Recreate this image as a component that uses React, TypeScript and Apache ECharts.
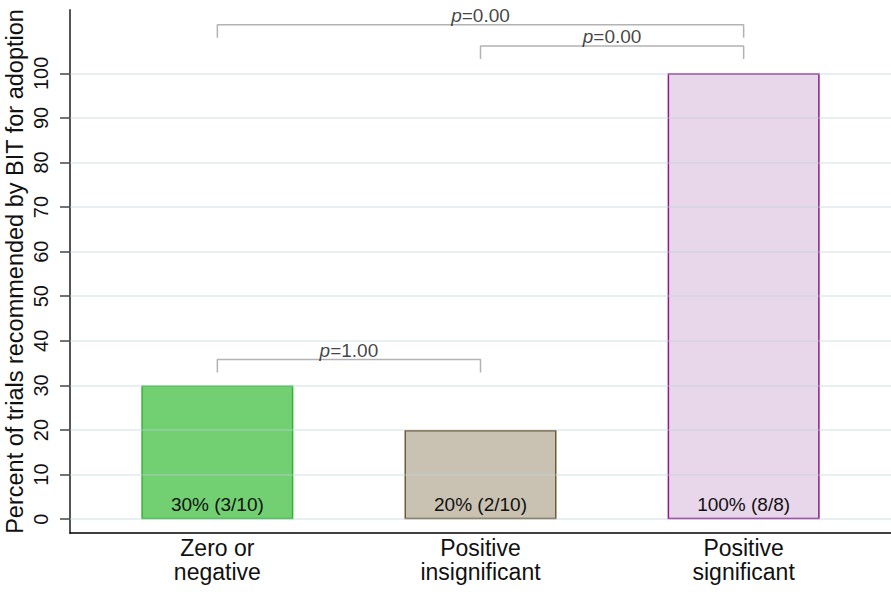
import React, { useEffect, useRef } from "react";
import * as echarts from "echarts";

const categories = ["Zero or\nnegative", "Positive\ninsignificant", "Positive\nsignificant"];
const percentValues = [30, 20, 100];
const barLabels = ["30% (3/10)", "20% (2/10)", "100% (8/8)"];
const yTicks = [0, 10, 20, 30, 40, 50, 60, 70, 80, 90, 100];

// significance brackets
const bracketFrom = [0, 1, 0];
const bracketTo = [2, 2, 1];
const bracketTop = [110.9, 106.1, 35.8];
const bracketPValues = ["0.00", "0.00", "1.00"];
const legDrop = 2.9;

const fillColors = ["#72d072", "#c9c2b2", "#e8d6ea"];
const borderColors = ["#2bb82b", "#6e5b37", "#8c1a8c"];

const FONT = "Arial, 'Liberation Sans', Helvetica, sans-serif";

export default function App() {
  const ref = useRef<HTMLDivElement>(null);
  useEffect(() => {
    if (!ref.current) return;
    const chart = echarts.init(ref.current, null, { renderer: "svg" });

    const bracketSeries = bracketFrom.map((f, i) => ({
      type: "line",
      z: 3,
      silent: true,
      symbol: "none",
      lineStyle: { color: "#b3b3b3", width: 1.5 },
      data: [
        [f, bracketTop[i] - legDrop],
        [f, bracketTop[i]],
        [bracketTo[i], bracketTop[i]],
        [bracketTo[i], bracketTop[i] - legDrop],
      ],
    }));

    const pLabelSeries = {
      type: "scatter",
      z: 4,
      silent: true,
      symbolSize: 0,
      data: bracketFrom.map((f, i) => [(f + bracketTo[i]) / 2, bracketTop[i]]),
      label: {
        show: true,
        position: "top",
        distance: 0,
        fontFamily: FONT,
        fontSize: 19,
        color: "#111",
        formatter: (p: any) => `{i|p}{n|=${bracketPValues[p.dataIndex]}}`,
        rich: {
          i: { fontStyle: "italic", fontSize: 19, fontFamily: FONT, color: "#111" },
          n: { fontSize: 19, fontFamily: FONT, color: "#111" },
        },
      },
    };

    chart.setOption({
      animation: false,
      backgroundColor: "#ffffff",
      grid: { left: 70, right: 0, top: 10, bottom: 59, containLabel: false, outerBoundsMode: "none" },
      xAxis: {
        type: "value",
        min: -0.56,
        max: 2.56,
        axisLine: { show: true, onZero: false, lineStyle: { color: "#000", width: 1.5 } },
        axisTick: { show: false },
        splitLine: { show: false },
        axisLabel: {
          customValues: [0, 1, 2],
          formatter: (v: number) => categories[Math.round(v)] ?? "",
          fontFamily: FONT,
          fontSize: 23,
          lineHeight: 24,
          color: "#111",
          margin: 3,
        },
      },
      yAxis: {
        type: "value",
        min: -3.1,
        max: 114.2,
        name: "Percent of trials recommended by BIT for adoption",
        nameLocation: "middle",
        nameGap: 43,
        nameMoveOverlap: false,
        nameTextStyle: { fontFamily: FONT, fontSize: 23.5, color: "#111" },
        axisLine: { show: true, onZero: false, lineStyle: { color: "#555", width: 2 } },
        axisTick: { show: true, customValues: yTicks, length: 10, lineStyle: { color: "#444", width: 1.5 } },
        axisLabel: {
          customValues: yTicks,
          rotate: 90,
          fontFamily: FONT,
          fontSize: 20,
          color: "#111",
          margin: 19,
        },
        splitLine: { show: false },
      },
      series: [
        {
          type: "bar",
          z: 2,
          barWidth: 152,
          data: percentValues.map((v, i) => ({
            value: [i, v],
            itemStyle: { color: fillColors[i], borderColor: borderColors[i], borderWidth: 1.5 },
          })),
          label: {
            show: true,
            position: "insideBottom",
            distance: 5,
            fontFamily: FONT,
            fontSize: 19,
            color: "#111",
            formatter: (p: any) => barLabels[p.dataIndex],
          },
          markLine: {
            silent: true,
            symbol: "none",
            label: { show: false },
            lineStyle: { color: "rgba(190,208,220,0.35)", width: 2, type: "solid" },
            data: yTicks.map((v) => ({ yAxis: v })),
          },
        },
        ...bracketSeries,
        pLabelSeries,
      ],
    } as any);
    return () => chart.dispose();
  }, []);
  return <div ref={ref} style={{ width: 891, height: 592, position: "absolute", left: 0, top: 0 }} />;
}
